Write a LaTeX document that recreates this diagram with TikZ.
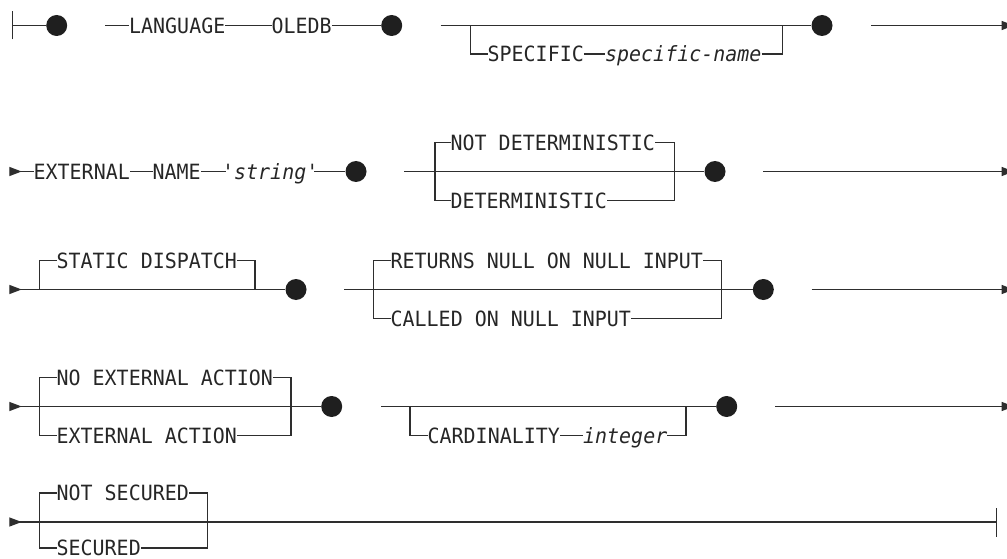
\documentclass[tikz,border=0pt]{standalone}
\usepackage{fontspec}
\setmonofont{DejaVu Sans Mono}[FakeStretch=0.95]
\usetikzlibrary{arrows.meta}
\newcommand\kwfont{\ttfamily\fontsize{21}{21}\selectfont}
\newcommand\kwit{\ttfamily\itshape\fontsize{21}{21}\selectfont}
\begin{document}
\begin{tikzpicture}[x=1pt,y=-1pt,
  ln/.style={draw=black!82, line width=1.3pt},
  kw/.style={font=\kwfont, text=black!85, inner sep=0pt, anchor=west, text height=15.3pt, text depth=0pt},
  var/.style={kw, font=\kwit},
  bullet/.style={circle, fill=black!88, draw=none, minimum size=21pt, inner sep=0pt},
  goon/.style={-{Triangle[length=12pt,width=9pt]}},
  comein/.style={{Triangle[reversed,length=12.4pt,width=9pt]}-},
]
\useasboundingbox (0,0) rectangle (1007,559);

% ---------- row 1 ----------
\coordinate (bar1) at (12.3,25.5);
\node[bullet] (d11) at (56.7,25.5) {};
\coordinate (c11) at (105.3,25.5);
\node[kw] (lang) at (129,25.5) {LANGUAGE};
\node[kw] (oledb) at (271.5,25.5) {OLEDB};
\node[bullet] (d12) at (391.7,25.5) {};
\coordinate (c12) at (440.7,25.5);
\coordinate (s1) at (470.7,25.5);
\coordinate (s1b) at (470.7,54);
\node[kw] (spec) at (487.5,54) {SPECIFIC};
\node[var] (specn) at (605,54) {specific-name};
\coordinate (j1b) at (782.7,54);
\coordinate (j1) at (782.7,25.5);
\node[bullet] (d13) at (822,25.5) {};
\coordinate (c13) at (871,25.5);
\coordinate (e1) at (1013.7,25.5);

\draw[ln] ([yshift=-14pt]bar1) -- ([yshift=14pt]bar1);
\draw[ln] (bar1) -- (d11);
\draw[ln] (c11) -- (lang.west);
\draw[ln] (lang.east) -- (oledb.west);
\draw[ln] (oledb.east) -- (d12);
\draw[ln] (c12) -- (d13);
\draw[ln] (s1) -- (s1b) -- (spec.west);
\draw[ln] (spec.east) -- (specn.west);
\draw[ln] (specn.east) -- (j1b) -- (j1);
\draw[ln,goon] (c13) -- (e1);

% ---------- row 2 ----------
\coordinate (a2) at (9.3,171.5);
\node[kw] (ext) at (33.5,171.5) {EXTERNAL};
\node[kw] (name) at (152.5,171.5) {NAME};
\node[var] (str) at (222,171.5) {'string'};
\node[bullet] (d21) at (356,171.5) {};
\coordinate (c21) at (404.3,171.5);
\coordinate (s2u) at (435,142.5);
\coordinate (s2l) at (435,200.5);
\node[kw] (notdet) at (450.5,142.5) {NOT DETERMINISTIC};
\node[kw] (det) at (450.5,200.5) {DETERMINISTIC};
\coordinate (j2u) at (674.3,142.5);
\coordinate (j2l) at (674.3,200.5);
\node[bullet] (d22) at (715,171.5) {};
\coordinate (c22) at (763.3,171.5);
\coordinate (e2) at (1013.7,171.5);

\draw[ln,comein] (a2) -- (ext.west);
\draw[ln] (ext.east) -- (name.west);
\draw[ln] (name.east) -- ([xshift=4pt]str.west);
\draw[ln] ([xshift=-4pt]str.east) -- (d21);
\draw[ln] (c21) -- (d22);
\draw[ln] (s2u) -- (s2l);
\draw[ln] (s2u) -- (notdet.west);
\draw[ln] (s2l) -- (det.west);
\draw[ln] (notdet.east) -- (j2u) -- (j2l) -- (det.east);
\draw[ln,goon] (c22) -- (e2);

% ---------- row 3 ----------
\coordinate (a3) at (9.3,289.5);
\coordinate (s31) at (39.3,289.5);
\coordinate (s31u) at (39.3,260.5);
\node[kw] (static) at (56.5,260.5) {STATIC DISPATCH};
\coordinate (j31u) at (255,260.5);
\coordinate (j31) at (255,289.5);
\node[bullet] (d31) at (296,289.5) {};
\coordinate (c31) at (344.3,289.5);
\coordinate (s32u) at (373.3,260.5);
\coordinate (s32l) at (373.3,318.5);
\node[kw] (ret) at (390.5,260.5) {RETURNS NULL ON NULL INPUT};
\node[kw] (called) at (390.5,318.5) {CALLED ON NULL INPUT};
\coordinate (j32u) at (721.7,260.5);
\coordinate (j32l) at (721.7,318.5);
\node[bullet] (d32) at (763.3,289.5) {};
\coordinate (c32) at (811.7,289.5);
\coordinate (e3) at (1013.7,289.5);

\draw[ln,comein] (a3) -- (d31);
\draw[ln] (s31) -- (s31u) -- (static.west);
\draw[ln] (static.east) -- (j31u) -- (j31);
\draw[ln] (c31) -- (d32);
\draw[ln] (s32u) -- (s32l);
\draw[ln] (s32u) -- (ret.west);
\draw[ln] (s32l) -- (called.west);
\draw[ln] (ret.east) -- (j32u) -- (j32l) -- (called.east);
\draw[ln,goon] (c32) -- (e3);

% ---------- row 4 ----------
\coordinate (a4) at (9.3,406.5);
\coordinate (s41u) at (39.3,377.5);
\coordinate (s41l) at (39.3,435.5);
\node[kw] (noext) at (56.5,377.5) {NO EXTERNAL ACTION};
\node[kw] (extact) at (56.5,435.5) {EXTERNAL ACTION};
\coordinate (j41u) at (291,377.5);
\coordinate (j41l) at (291,435.5);
\node[bullet] (d41) at (331.7,406.5) {};
\coordinate (c41) at (381,406.5);
\coordinate (s42) at (410,406.5);
\coordinate (s42l) at (410,435.5);
\node[kw] (card) at (427.5,435.5) {CARDINALITY};
\node[var] (integ) at (583,435.5) {integer};
\coordinate (j42l) at (686,435.5);
\coordinate (j42) at (686,406.5);
\node[bullet] (d42) at (726.7,406.5) {};
\coordinate (c42) at (775,406.5);
\coordinate (e4) at (1013.7,406.5);

\draw[ln,comein] (a4) -- (d41);
\draw[ln] (s41u) -- (s41l);
\draw[ln] (s41u) -- (noext.west);
\draw[ln] (s41l) -- (extact.west);
\draw[ln] (noext.east) -- (j41u) -- (j41l) -- (extact.east);
\draw[ln] (c41) -- (d42);
\draw[ln] (s42) -- (s42l) -- (card.west);
\draw[ln] (card.east) -- (integ.west);
\draw[ln] (integ.east) -- (j42l) -- (j42);
\draw[ln,goon] (c42) -- (e4);

% ---------- row 5 ----------
\coordinate (a5) at (9.3,522);
\coordinate (s5u) at (39.3,493);
\coordinate (s5l) at (39.3,548);
\node[kw] (notsec) at (56.5,493) {NOT SECURED};
\node[kw] (sec) at (56.5,548) {SECURED};
\coordinate (j5u) at (207.3,493);
\coordinate (j5l) at (207.3,548);
\coordinate (bar5) at (996.7,522);

\draw[ln,comein] (a5) -- (bar5);
\draw[ln] (s5u) -- (s5l);
\draw[ln] (s5u) -- (notsec.west);
\draw[ln] (s5l) -- (sec.west);
\draw[ln] (notsec.east) -- (j5u) -- (j5l) -- (sec.east);
\draw[ln] ([yshift=-14.5pt]bar5) -- ([yshift=14.5pt]bar5);
\end{tikzpicture}
\end{document}
